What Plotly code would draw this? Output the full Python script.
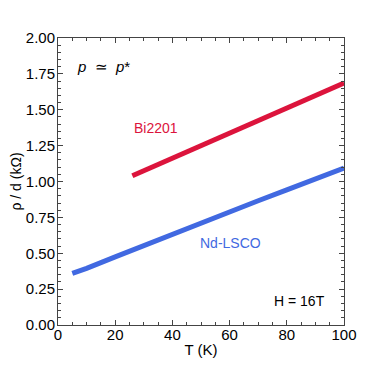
import plotly.graph_objects as go

# Nd-LSCO curve
t_nd = [5, 10, 20, 30, 40, 50, 60, 70, 80, 90, 100]
rho_nd = [0.36, 0.395, 0.475, 0.555, 0.635, 0.712, 0.790, 0.866, 0.942, 1.018, 1.094]

# Bi2201 curve
t_bi = [26, 40, 60, 80, 100]
rho_bi = [1.04, 1.162, 1.337, 1.511, 1.686]

red = "#DC143C"
blue = "#4169E1"

fig = go.Figure()
fig.add_trace(go.Scatter(x=t_nd, y=rho_nd, mode="lines", line=dict(color=blue, width=5), showlegend=False))
fig.add_trace(go.Scatter(x=t_bi, y=rho_bi, mode="lines", line=dict(color=red, width=5), showlegend=False))

axis_common = dict(showgrid=False, zeroline=False, showline=True, linecolor="#444", linewidth=1,
                   mirror="allticks", ticks="inside", ticklen=5, tickcolor="#444", automargin=False,
                   tickfont=dict(size=15, color="black"))

fig.update_xaxes(range=[0, 100], dtick=20, ticklabelstandoff=-4,
                 title=dict(text="T (K)", font=dict(size=15), standoff=2),
                 minor=dict(dtick=5, ticks="inside", ticklen=3, tickcolor="#444"), **axis_common)
fig.update_yaxes(range=[0, 2], dtick=0.25, tickformat=".2f", ticklabelstandoff=-1,
                 title=dict(text="ρ / d (kΩ)", font=dict(size=14), standoff=3),
                 minor=dict(dtick=0.05, ticks="inside", ticklen=3, tickcolor="#444"), **axis_common)

fig.add_annotation(x=6, y=1.8, text="<i>p</i>  ≃  <i>p</i>*", showarrow=False, xanchor="left",
                   font=dict(size=15, color="black"))
fig.add_annotation(x=26, y=1.37, text="Bi2201", showarrow=False, xanchor="left",
                   font=dict(size=14, color=red))
fig.add_annotation(x=49, y=0.57, text="Nd-LSCO", showarrow=False, xanchor="left",
                   font=dict(size=14, color=blue))
fig.add_annotation(x=94, y=0.17, text="H = 16T", showarrow=False, xanchor="right",
                   font=dict(size=14, color="black"))

# page body adds ~7px offset, so margins are shifted to compensate
fig.update_layout(width=382, height=382, margin=dict(l=50, r=46, t=30, b=65),
                  paper_bgcolor="white", plot_bgcolor="white",
                  font=dict(family="Liberation Sans, Arial, sans-serif", color="black"))

fig.write_html("out.html")
